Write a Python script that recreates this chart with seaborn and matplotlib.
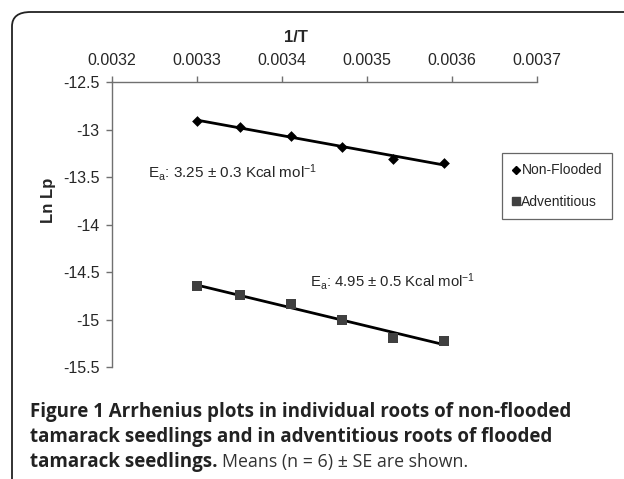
import numpy as np
import pandas as pd
import matplotlib
matplotlib.use("Agg")
import matplotlib.pyplot as plt
import seaborn as sns
from matplotlib.lines import Line2D
from matplotlib.patches import FancyBboxPatch

# data
inv_t = [0.00330, 0.00335, 0.00341, 0.00347, 0.00353, 0.00359]
non_flooded = [-12.91, -12.97, -13.07, -13.18, -13.31, -13.35]
adventitious = [-14.65, -14.74, -14.84, -15.01, -15.19, -15.23]
x_ticks = [0.0032, 0.0033, 0.0034, 0.0035, 0.0036, 0.0037]
y_ticks = [-12.5, -13, -13.5, -14, -14.5, -15, -15.5]

df = pd.DataFrame({"x": inv_t, "nf": non_flooded, "adv": adventitious})

sns.set_style("white")
plt.rcParams["font.family"] = ["Liberation Sans", "DejaVu Sans"]
plt.rcParams["mathtext.fontset"] = "custom"
plt.rcParams["mathtext.rm"] = "Liberation Sans"
plt.rcParams["mathtext.it"] = "Liberation Sans"

fig = plt.figure(figsize=(6.24, 4.79), dpi=100)
ax = fig.add_axes([112 / 624, 1 - 367 / 479, 425 / 624, 285 / 479])

sns.regplot(data=df, x="x", y="nf", ax=ax, ci=None, scatter=False,
            line_kws=dict(color="black", lw=2))
sns.regplot(data=df, x="x", y="adv", ax=ax, ci=None, scatter=False,
            line_kws=dict(color="black", lw=2))
sns.scatterplot(data=df, x="x", y="nf", ax=ax, marker="D", color="black",
                s=30, edgecolor="black", linewidth=0, zorder=3)
sns.scatterplot(data=df, x="x", y="adv", ax=ax, marker="s", color="#404040",
                s=55, edgecolor="#404040", linewidth=0, zorder=3)

ax.set_xlim(0.0032, 0.0037)
ax.set_ylim(-15.5, -12.5)
ax.set_xticks(x_ticks)
ax.set_xticklabels([f"{v:.4f}" for v in x_ticks])
ax.set_yticks(y_ticks)
ax.set_yticklabels([f"{v:g}" for v in y_ticks])
ax.xaxis.tick_top()
ax.tick_params(axis="x", which="both", top=True, bottom=False, direction="out",
               length=4, width=1, color="#707070", pad=6, labelsize=11.5)
ax.tick_params(axis="y", left=True, direction="out", length=4, width=1,
               color="#707070", pad=5, labelsize=11.5)
for s in ["right", "bottom"]:
    ax.spines[s].set_visible(False)
for s in ["top", "left"]:
    ax.spines[s].set_color("#707070")
    ax.spines[s].set_linewidth(1)

ax.set_xlabel("")
ax.set_ylabel("")
fig.text(296 / 624, 1 - 37 / 479, "1/T", ha="center", va="center",
         fontsize=12, fontweight="bold")
fig.text(48 / 624, 1 - 200 / 479, "Ln Lp", ha="center", va="center",
         rotation=90, fontsize=12, fontweight="bold")

fig.text(148 / 624, 1 - 172 / 479, "E$_a$: 3.25 ± 0.3 Kcal mol$^{-1}$",
         ha="left", va="center", fontsize=11)
fig.text(310 / 624, 1 - 282 / 479, "E$_a$: 4.95 ± 0.5 Kcal mol$^{-1}$",
         ha="left", va="center", fontsize=10.7)

handles = [Line2D([], [], marker="D", color="black", ls="none", markersize=4.5),
           Line2D([], [], marker="s", color="#404040", ls="none", markersize=6)]
leg = fig.legend(handles, ["Non-Flooded", "Adventitious"], loc="upper left",
                 bbox_to_anchor=(502 / 624, 1 - 153 / 479), fontsize=10,
                 frameon=True, fancybox=False, handlelength=0.5,
                 handletextpad=0.15, labelspacing=1.25, borderpad=0.75,
                 borderaxespad=0)
leg.get_frame().set_edgecolor("#404040")
leg.get_frame().set_linewidth(0.9)

# rounded frame around the figure panel
box = FancyBboxPatch((12 / 624, -0.05), 1.1, 1 - 12 / 479 + 0.05,
                     boxstyle="round,pad=0,rounding_size=0.03",
                     transform=fig.transFigure, fill=False,
                     edgecolor="#222222", lw=1.3, clip_on=False)
fig.patches.append(box)

cap_font = ["Open Sans", "DejaVu Sans"]
cap_kw = dict(fontsize=13.5, family=cap_font, va="baseline", color="#222222")
fig.text(30 / 624, 1 - 417 / 479,
         "Figure 1 Arrhenius plots in individual roots of non-flooded",
         fontweight="bold", **cap_kw)
fig.text(30 / 624, 1 - 442 / 479,
         "tamarack seedlings and in adventitious roots of flooded",
         fontweight="bold", **cap_kw)
t3 = fig.text(30 / 624, 1 - 467 / 479, "tamarack seedlings.",
              fontweight="bold", **cap_kw)
fig.canvas.draw()
x_end = t3.get_window_extent().x1 / fig.bbox.width
fig.text(x_end + 4 / 624, 1 - 467 / 479, "Means (n = 6) ± SE are shown.",
         fontsize=12.8, family=cap_font, va="baseline", color="#333333")

fig.savefig("out.png", dpi=100)
